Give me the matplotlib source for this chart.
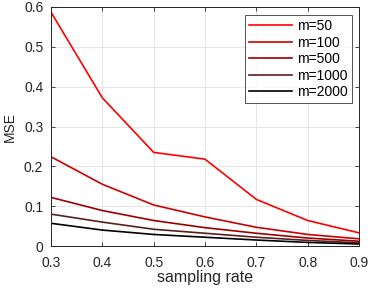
import matplotlib
matplotlib.use('Agg')
import matplotlib.pyplot as plt

# Данные
rate = [0.3, 0.4, 0.5, 0.6, 0.7, 0.8, 0.9]
mse_50 = [0.587, 0.372, 0.235, 0.218, 0.117, 0.064, 0.033]
mse_100 = [0.224, 0.155, 0.103, 0.073, 0.047, 0.029, 0.018]
mse_500 = [0.122, 0.089, 0.064, 0.046, 0.032, 0.020, 0.012]
mse_1000 = [0.080, 0.060, 0.042, 0.032, 0.022, 0.014, 0.008]
mse_2000 = [0.057, 0.040, 0.029, 0.022, 0.015, 0.009, 0.005]
labels = ['m=50', 'm=100', 'm=500', 'm=1000', 'm=2000']
colors = ['#ff0000', '#cc0000', '#990000', '#5a2020', '#000000']

plt.rcParams['font.family'] = ['Liberation Sans', 'DejaVu Sans']

fig = plt.figure(figsize=(3.74, 2.88), dpi=100)
ax = fig.add_axes([51 / 374, 42 / 288, 308 / 374, 239 / 288])

for y, lab, c in zip([mse_50, mse_100, mse_500, mse_1000, mse_2000], labels, colors):
    ax.plot(rate, y, color=c, linewidth=1.2, label=lab)

ax.set_xlim(0.3, 0.9)
ax.set_ylim(0, 0.6)
ax.set_xticks([0.3, 0.4, 0.5, 0.6, 0.7, 0.8, 0.9])
ax.set_xticklabels(['0.3', '0.4', '0.5', '0.6', '0.7', '0.8', '0.9'])
ax.set_yticks([0, 0.1, 0.2, 0.3, 0.4, 0.5, 0.6])
ax.set_yticklabels(['0', '0.1', '0.2', '0.3', '0.4', '0.5', '0.6'])
ax.grid(True, color='#e6e6e6', linewidth=0.7)
ax.set_axisbelow(True)
ax.tick_params(direction='in', length=3, width=0.6, colors='#262626',
               labelsize=10, top=True, right=True, labeltop=False, labelright=False)
ax.tick_params(axis='x', pad=7)
ax.tick_params(axis='y', pad=5.5)
for s in ax.spines.values():
    s.set_color('#262626')
    s.set_linewidth(0.7)
ax.set_xlabel('sampling rate', fontsize=11.5, color='#262626', labelpad=0)
ax.set_ylabel('MSE', fontsize=10, color='#262626', labelpad=5)

leg = ax.legend(loc='upper right', bbox_to_anchor=(352 / 374, 273 / 288),
                bbox_transform=fig.transFigure, fontsize=10, frameon=True,
                fancybox=False, edgecolor='#262626', handlelength=3.1,
                handletextpad=0.35, labelspacing=0.18, borderpad=0.3,
                borderaxespad=0)
leg.get_frame().set_linewidth(0.7)

fig.savefig('out.png', dpi=100)
